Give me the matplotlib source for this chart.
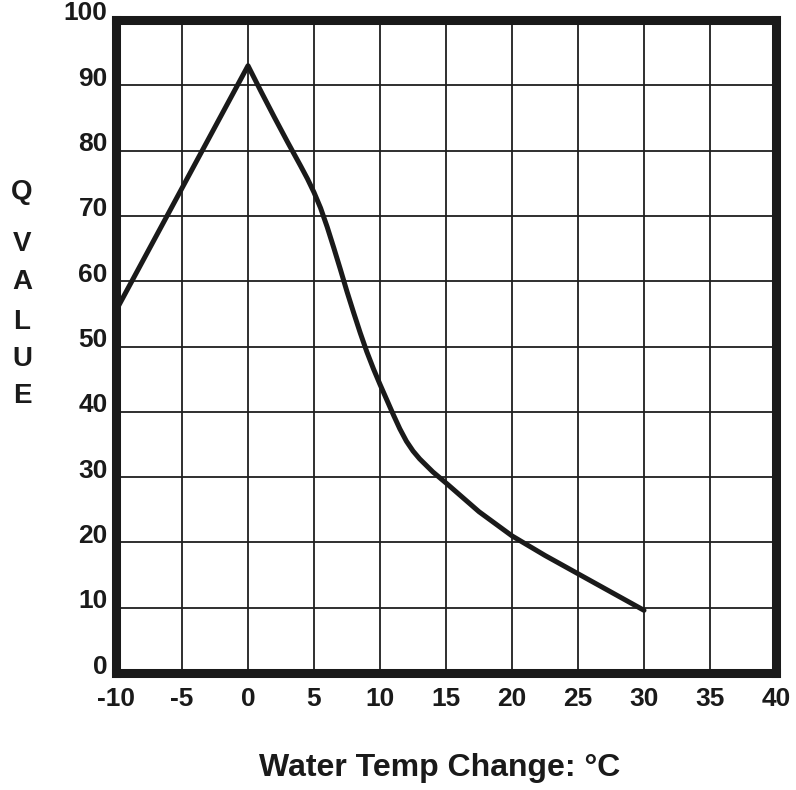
import matplotlib
matplotlib.use("Agg")
import matplotlib.pyplot as plt
import matplotlib.transforms as mtransforms

plt.rcParams["font.family"] = ["Liberation Sans", "DejaVu Sans"]
plt.rcParams["axes.unicode_minus"] = False

# Q value vs water temperature change
temp_change = [-10, 0, 1, 2, 3, 4, 4.5, 5, 5.5, 6, 6.5, 7, 7.5, 8, 8.5, 9,
               9.5, 10, 10.5, 11, 11.5, 12, 12.5, 13, 14, 15, 17.5, 20, 22.5,
               25, 27.5, 30]
q_value = [55.5, 93, 89, 85.1, 81.3, 77.6, 75.7, 73.6, 71.2, 68.3, 65.1, 61.8,
           58.4, 55.2, 52.1, 49.2, 46.6, 44.2, 41.9, 39.6, 37.4, 35.5, 34,
           32.8, 30.8, 29.1, 24.7, 21.0, 18.0, 15.2, 12.4, 9.6]

x_ticks = list(range(-10, 41, 5))
y_ticks = list(range(0, 101, 10))
y_letters = ["Q", "V", "A", "L", "U", "E"]
letter_y_px = [192, 244, 282, 322, 359, 396]


def main():
    fig = plt.figure(figsize=(7.96, 7.90), dpi=100)
    ax = fig.add_axes([116 / 796, 1 - 673 / 790, 660 / 796, 653 / 790])

    ax.plot(temp_change, q_value, color="#1a1a1a", linewidth=3.6,
            solid_capstyle="round", solid_joinstyle="round", zorder=3)

    ax.set_xlim(-10, 40)
    ax.set_ylim(0, 100)
    ax.set_xticks(x_ticks)
    ax.set_yticks(y_ticks)
    ax.grid(True, color="#1f1f1f", linewidth=1.3)
    ax.set_axisbelow(True)

    for side in ["left", "right", "top", "bottom"]:
        ax.spines[side].set_linewidth(6.5)
        ax.spines[side].set_color("#1a1a1a")

    ax.tick_params(length=0, labelsize=19, colors="#1a1a1a")
    ax.tick_params(axis="x", pad=10)
    ax.tick_params(axis="y", pad=6)
    for lab in ax.get_xticklabels() + ax.get_yticklabels():
        lab.set_fontweight("bold")

    # labels in the scan sit a little above their grid lines
    up = mtransforms.ScaledTranslation(0, 9 / 100, fig.dpi_scale_trans)
    for lab in ax.get_yticklabels():
        lab.set_transform(lab.get_transform() + up)

    fig.text(440 / 796, 1 - 768 / 790, "Water Temp Change: \u00b0C",
             ha="center", va="center", fontsize=23, fontweight="bold",
             color="#1a1a1a")

    for letter, ypx in zip(y_letters, letter_y_px):
        fig.text(22 / 796, 1 - ypx / 790, letter, ha="center", va="center",
                 fontsize=20, fontweight="bold", color="#1a1a1a")

    fig.savefig("out.png", dpi=100)


if __name__ == "__main__":
    main()
